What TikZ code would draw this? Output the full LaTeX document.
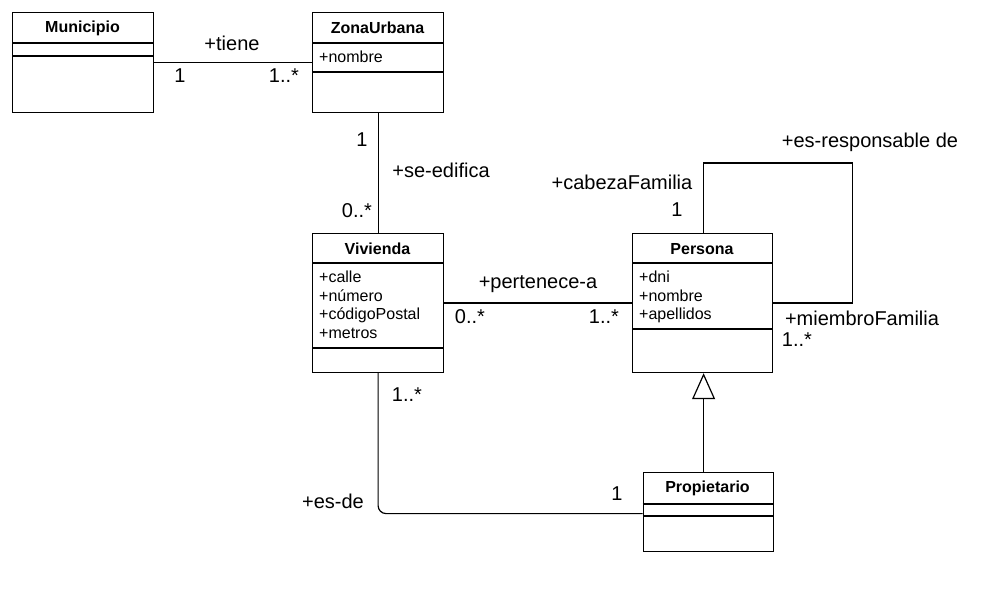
\documentclass[tikz,border=0pt]{standalone}
\usepackage{fontspec}
\setmainfont{Liberation Sans}
\usetikzlibrary{arrows.meta,calc}
\tikzset{
  cls/.style={draw, line width=1.2pt, fill=white, anchor=north west, inner sep=0pt},
  ttl/.style={font=\fontsize{16}{19}\selectfont\bfseries, anchor=center, inner sep=0pt},
  attr/.style={font=\fontsize{16}{18.6}\selectfont, anchor=base west, inner sep=0pt, align=left},
  lbl/.style={font=\fontsize{20}{24}\selectfont, anchor=center, inner sep=0pt},
  conn/.style={line width=1.2pt},
}
\begin{document}
\begin{tikzpicture}[x=1pt,y=-1pt]
\useasboundingbox (0,0) rectangle (1007,601);
\fill[white] (0,0) rectangle (1007,601);
% classes
\node[cls, minimum width=141pt, minimum height=100pt] (mun) at (12,12) {};
\draw[line width=1.2pt] (12,43) -- (153,43) (12,56) -- (153,56);
\node[ttl] (munT) at (82.5,28) {Municipio};

\node[cls, minimum width=131pt, minimum height=100pt] (zu) at (312,12) {};
\draw[line width=1.2pt] (312,43) -- (443,43) (312,72) -- (443,72);
\node[ttl] (zuT) at (377.5,28) {ZonaUrbana};
\node[attr] (zuA) at (319,63) {+nombre};

\node[cls, minimum width=131pt, minimum height=139pt] (viv) at (312,233) {};
\draw[line width=1.2pt] (312,263) -- (443,263) (312,348) -- (443,348);
\node[ttl] (vivT) at (377.5,249) {Vivienda};
\node[attr] (vivA1) at (319,283) {+calle};
\node[attr] (vivA2) at (319,301.5) {+número};
\node[attr] (vivA3) at (319,320) {+códigoPostal};
\node[attr] (vivA4) at (319,338.5) {+metros};

\node[cls, minimum width=140pt, minimum height=139pt] (per) at (632,233) {};
\draw[line width=1.2pt] (632,263) -- (772,263) (632,329) -- (772,329);
\node[ttl] (perT) at (702,249) {Persona};
\node[attr] (perA1) at (639,283) {+dni};
\node[attr] (perA2) at (639,301.5) {+nombre};
\node[attr] (perA3) at (639,320) {+apellidos};

\node[cls, minimum width=130pt, minimum height=79pt] (prop) at (642.5,472) {};
\draw[line width=1.2pt] (642.5,504) -- (772.5,504) (642.5,516) -- (772.5,516);
\node[ttl] (propT) at (707.5,488) {Propietario};

% connectors
\draw[conn] (mun.east) -- (zu.west);
\node[lbl] (l1) at (232,43) {+tiene};
\node[lbl] (l2) at (180,76) {1};
\node[lbl] (l3) at (284,76) {1..*};

\draw[conn] (zu.south) -- (viv.north);
\node[lbl] (l4) at (362,140) {1};
\node[lbl] (l5) at (441,170) {+se-edifica};
\node[lbl] (l6) at (357,211) {0..*};

\draw[conn] (viv.east) -- (per.west);
\node[lbl] (l7) at (538,284) {+pertenece-a};
\node[lbl] (l8) at (470,317) {0..*};
\node[lbl] (l9) at (604,317) {1..*};

\draw[conn] ([xshift=1pt]per.north) -- ++(0,-70) -- ++(149,0) |- (per.east);
\node[lbl] (l10) at (870,142) {+es-responsable de};
\node[lbl] (l11) at (622,182) {+cabezaFamilia};
\node[lbl] (l12) at (677,210) {1};
\node[lbl] (l13) at (862,318) {+miembroFamilia};
\node[lbl] (l14) at (797,340) {1..*};

\draw[conn, -{Triangle[open, length=26pt, width=23pt, line width=1.2pt]}] ([xshift=1pt]per.south |- prop.north) -- ([xshift=1pt]per.south);

\draw[conn, rounded corners=8pt] (viv.south) |- ([yshift=-1.5pt]prop.west);
\node[lbl] (l15) at (407,395) {1..*};
\node[lbl] (l16) at (333,501) {+es-de};
\node[lbl] (l17) at (617,494) {1};
\end{tikzpicture}
\end{document}
